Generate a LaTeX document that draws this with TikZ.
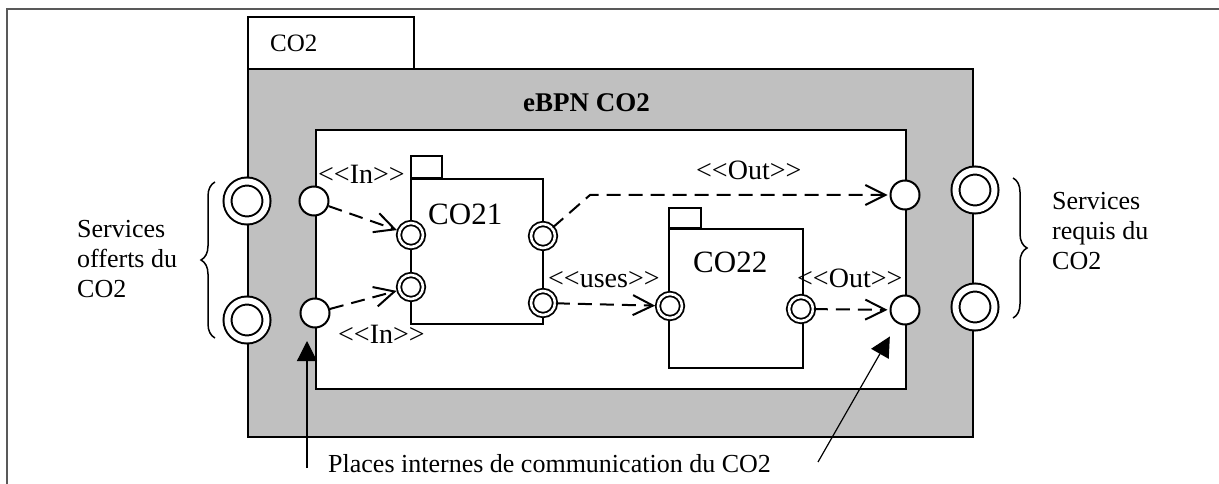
\documentclass[tikz,border=0pt]{standalone}
\usepackage{fontspec}
\setmainfont{Liberation Serif}[Ligatures=TeXOff]
\usetikzlibrary{arrows.meta,decorations.pathreplacing,positioning}

\definecolor{panelgray}{RGB}{192,192,192}
\tikzset{
  box/.style={draw, line width=2pt},
  frameline/.style={draw=black!65, line width=2.5pt},
  outerport/.style={circle, draw, fill=white, double, line width=2pt, double distance=6pt, minimum size=39pt, inner sep=0pt},
  compport/.style={circle, draw, fill=white, double, line width=1.8pt, double distance=2.6pt, minimum size=24pt, inner sep=0pt},
  place/.style={circle, draw, fill=white, line width=2pt, minimum size=29pt, inner sep=0pt},
  flow/.style={line width=2pt, dash pattern=on 14pt off 8pt, -{Straight Barb[length=20pt,width=20pt]}, shorten >=2pt},
  ptr/.style={line width=1.2pt, -{Triangle[length=20pt,width=20pt]}},
  curly/.style={decorate, decoration={brace, amplitude=14pt}, line width=1.5pt},
  note/.style={font=\fontsize{26}{30}\selectfont, align=left, inner sep=0pt},
  stereo/.style={font=\fontsize{28}{32}\selectfont, inner sep=0pt, anchor=base west},
  cname/.style={font=\fontsize{31}{36}\selectfont, inner sep=0pt, anchor=base west}
}

\begin{document}
\begin{tikzpicture}[x=1pt,y=-1pt]
\useasboundingbox (0,0) rectangle (1219,484);
% Outer frame
\draw[frameline] (7,484) -- (7,9) -- (1219,9);
% Package CO2
\draw[box, fill=white] (248,17) rectangle (414,69);
\node[font=\fontsize{25}{30}\selectfont, inner sep=0pt, anchor=base west] (tab) at (270,52) {CO2};
\draw[box, fill=panelgray] (248,69) rectangle (973,437);
\node[font=\bfseries\fontsize{27}{32}\selectfont, inner sep=0pt, anchor=base west] (title) at (523,112) {eBPN CO2};
\draw[box, fill=white] (316,130) rectangle (906,389);
% Component CO21
\draw[box] (411,156) rectangle (442,178);
\draw[box] (411,179) rectangle (543,324);
\node[cname] (co21) at (428,224) {CO21};
% Component CO22
\draw[box] (669,208) rectangle (701,228);
\draw[box] (669,229) rectangle (803,368);
\node[cname] (co22) at (693,272) {CO22};
% Services offered / required
\node[outerport] (s1) at (247,201) {};
\node[outerport] (s2) at (247,320) {};
\node[outerport] (r1) at (975,190) {};
\node[outerport] (r2) at (975,307) {};
% Internal places
\node[place] (in1) at (314,201) {};
\node[place] (in2) at (315,313) {};
\node[place] (out1) at (905,195) {};
\node[place] (out2) at (905,310) {};
% Component ports
\node[compport] (p21a) at (411,235) {};
\node[compport] (p21b) at (411,287) {};
\node[compport] (p21c) at (543,236) {};
\node[compport] (p21d) at (543,303) {};
\node[compport] (p22a) at (670,306) {};
\node[compport] (p22b) at (801,309) {};
% Flows
\coordinate (bend) at (590,195);
\draw[flow] (in1) -- (p21a);
\draw[flow] (in2) -- (p21b);
\draw[flow] (p21c) -- (bend) -- (out1);
\draw[flow] (p21d) -- (p22a);
\draw[flow] (p22b) -- (out2);
\node[stereo] (inA) at (318,183) {<<In>>};
\node[stereo] (inB) at (338,343) {<<In>>};
\node[stereo] (outA) at (696,180) {<<Out>>};
\node[stereo] (uses) at (548,287) {<<uses>>};
\node[stereo] (outB) at (797,287) {<<Out>>};
% Braces and notes
\draw[curly] (215,338) -- (215,182);
\draw[curly] (1013,178) -- (1013,318);
\node[note, anchor=west] (offered) at (77,259) {Services\\offerts du\\CO2};
\node[note, anchor=west] (required) at (1052,231) {Services\\requis du\\CO2};
\node[note, anchor=base west] (places) at (328,472) {Places internes de communication du CO2};
% Pointers to the internal places
\coordinate (tailA) at (307,468);
\coordinate (tailB) at (818,462);
\draw[ptr, shorten >=12.5pt] (tailA) -- (tailA |- in2.south);
\draw[ptr, shorten >=15pt] (tailB) -- (out2);
\end{tikzpicture}
\end{document}
